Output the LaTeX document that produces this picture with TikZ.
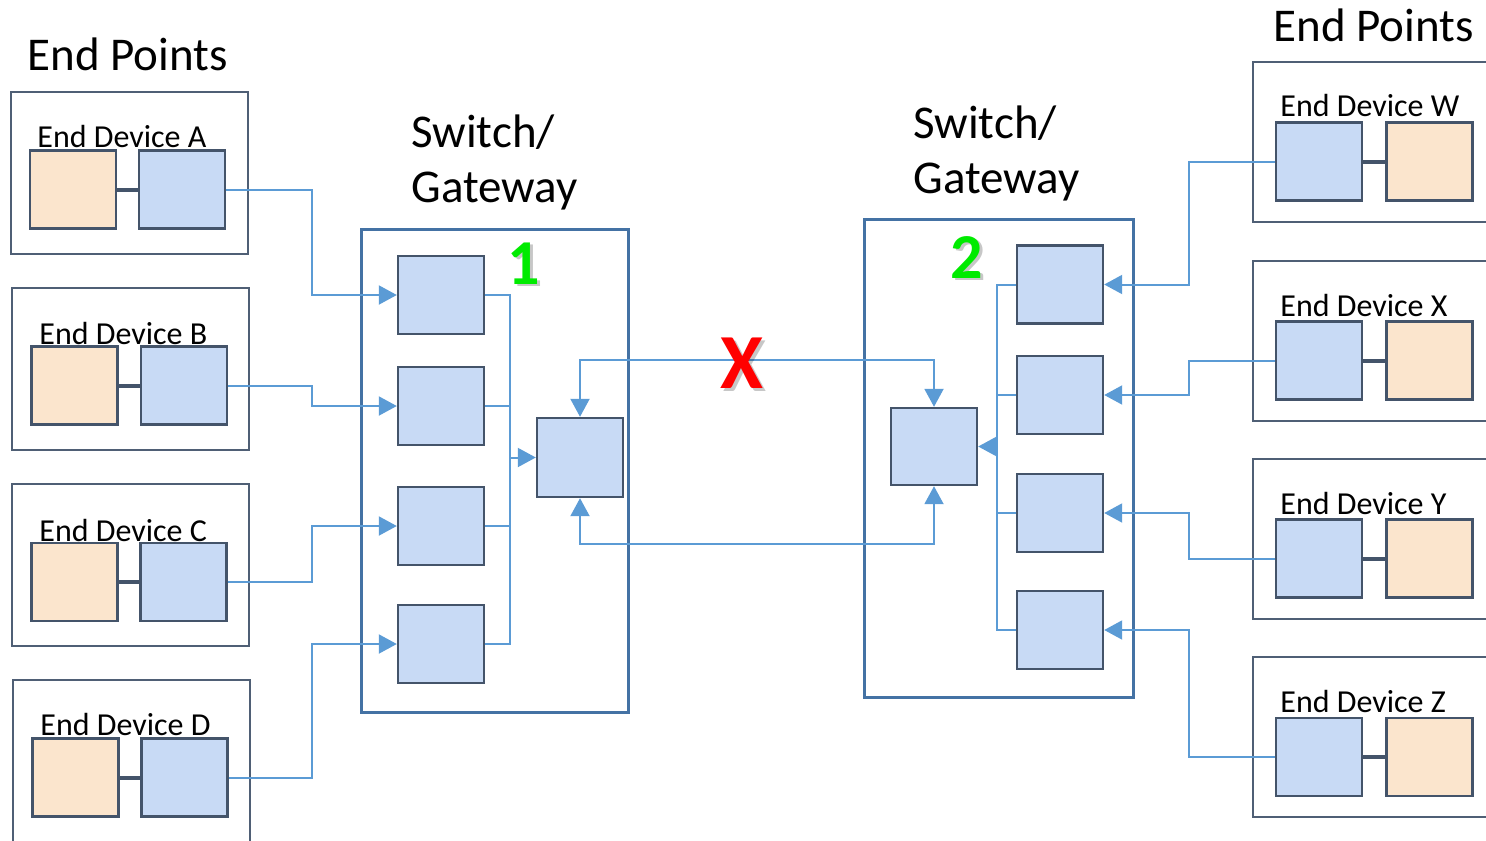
\documentclass[tikz,border=0pt]{standalone}
\usepackage{fontspec}
\setmainfont{Carlito}
\usetikzlibrary{arrows.meta}

\definecolor{portfill}{HTML}{C8DAF5}
\definecolor{hostfill}{HTML}{FBE5CD}
\definecolor{boxedge}{HTML}{44546A}
\definecolor{devedge}{HTML}{4F5F75}
\definecolor{swedge}{HTML}{4472A4}
\definecolor{wireblue}{HTML}{5B9BD5}
\definecolor{tagGreen}{RGB}{0,235,0}
\definecolor{faultRed}{RGB}{255,0,0}

\begin{document}
\begin{tikzpicture}[x=0.5pt,y=-0.5pt,
  portbox/.style={draw=boxedge, fill=portfill, line width=1.2pt,
    minimum width=43pt, minimum height=39pt, inner sep=0pt},
  hostbox/.style={portbox, fill=hostfill},
  devframe/.style={draw=devedge, line width=1pt, minimum width=118.5pt,
    minimum height=81pt, inner sep=0pt},
  swframe/.style={draw=swedge, line width=1.5pt, inner sep=0pt},
  wire/.style={draw=wireblue, line width=1pt},
  flow/.style={wire, -{Triangle[length=9pt,width=9.5pt]}},
  duplex/.style={wire, {Triangle[length=9pt,width=9.5pt]}-{Triangle[length=9pt,width=9.5pt]}},
  hostlink/.style={draw=boxedge, line width=2pt},
  title/.style={anchor=base west, inner sep=0pt, font=\fontsize{23.5}{28}\selectfont},
  devlabel/.style={anchor=base west, inner sep=0pt, font=\fontsize{16}{19}\selectfont},
  tag/.style={anchor=base, inner sep=0pt, font=\bfseries\fontsize{32}{38}\selectfont, text=tagGreen},
  tagshadow/.style={tag, text=black, opacity=0.22},
]
\useasboundingbox (0,0) rectangle (1486,840);
\clip (0,0) rectangle (1486,840);

% routing guides
\coordinate (lbus) at (312,0);
\coordinate (rbus) at (1189,0);
\coordinate (hub1) at (510,0);
\coordinate (hub2) at (997,0);
\coordinate (trunkTop) at (0,360);
\coordinate (trunkBot) at (0,544);

% headings
\node[title] (epL) at (27,71) {End Points};
\node[title] (epR) at (1273,42) {End Points};
\node[title] (sw1a) at (411,148) {Switch/};
\node[title] (sw1b) at (411,202) {Gateway};
\node[title] (sw2a) at (913,138) {Switch/};
\node[title] (sw2b) at (913,193) {Gateway};

% switch enclosures
\node[swframe, minimum width=133.5pt, minimum height=241.5pt] (sw1) at (494.5,470.5) {};
\node[swframe, minimum width=134.5pt, minimum height=239pt] (sw2) at (998.5,458) {};

% switch 1: ingress ports and core
\foreach \i/\y in {1/295,2/406,3/526,4/644}
  \node[portbox] (p\i) at (441,\y) {};
\node[portbox, minimum height=39.5pt] (c1) at (580,457.5) {};

% switch 2: ingress ports and core
\foreach \i/\y in {1/284.5,2/395,3/513,4/630}
  \node[portbox] (q\i) at (1060,\y) {};
\node[portbox, minimum height=38.5pt] (c2) at (934,446.5) {};

% left end devices
\foreach \k/\i/\fx/\fy/\ox/\bx/\iy/\lx/\ly in {
    A/1/129.5/173/73/182/189.5/37/148,
    B/2/130.5/369/74.5/184/385.5/39/344,
    C/3/130.5/565/74.5/183.5/582/39/541,
    D/4/131.5/761/75.5/184.5/777.5/40/735}{
  \node[devframe] (f\k) at (\fx,\fy) {};
  \node[hostbox] (o\k) at (\ox,\iy) {};
  \node[portbox] (b\k) at (\bx,\iy) {};
  \node[devlabel] (l\k) at (\lx,\ly) {End Device \k};
  \draw[hostlink] (o\k.east) -- (b\k.west);
  \draw[flow] (b\k.east) -- (b\k.east -| lbus) |- (p\i.west);
}

% right end devices
\foreach \k/\i/\fy/\iy/\ly in {
    W/1/142/161.5/117,
    X/2/341/360.5/316,
    Y/3/539/558.5/514,
    Z/4/737/757/712}{
  \node[devframe, minimum height=80pt] (f\k) at (1371.5,\fy) {};
  \node[portbox] (b\k) at (1319,\iy) {};
  \node[hostbox] (o\k) at (1429.5,\iy) {};
  \node[devlabel] (l\k) at (1280,\ly) {End Device \k};
  \draw[hostlink] (b\k.east) -- (o\k.west);
  \draw[flow] (b\k.west) -- (b\k.west -| rbus) |- (q\i.east);
}

% switch 1 internal bus
\draw[wire] (p1.east) -- (p1.east -| hub1) -- (p4.east -| hub1) -- (p4.east);
\draw[wire] (p2.east) -- (p2.east -| hub1);
\draw[wire] (p3.east) -- (p3.east -| hub1);
\draw[flow] (c1.west -| hub1) -- (c1.west);

% switch 2 internal bus
\draw[wire] (q1.west) -- (q1.west -| hub2) -- (q4.west -| hub2) -- (q4.west);
\draw[wire] (q2.west) -- (q2.west -| hub2);
\draw[wire] (q3.west) -- (q3.west -| hub2);
\draw[flow] (c2.east -| hub2) -- (c2.east);

% inter-switch trunks
\draw[duplex] (c1.north) -- (c1.north |- trunkTop) -| (c2.north);
\draw[duplex] (c1.south) -- (c1.south |- trunkBot) -| (c2.south);

% switch tags and link fault mark
\node[tagshadow] (n1s) at (526.5,286.5) {1};
\node[tag] (n1) at (524,284) {1};
\node[tagshadow] (n2s) at (969.5,280.5) {2};
\node[tag] (n2) at (967,278) {2};
\node[tagshadow, font=\bfseries\fontsize{39}{46}\selectfont] (xs) at (745,391) {X};
\node[tag, font=\bfseries\fontsize{39}{46}\selectfont, text=faultRed] (fault) at (742,388) {X};
\end{tikzpicture}
\end{document}
